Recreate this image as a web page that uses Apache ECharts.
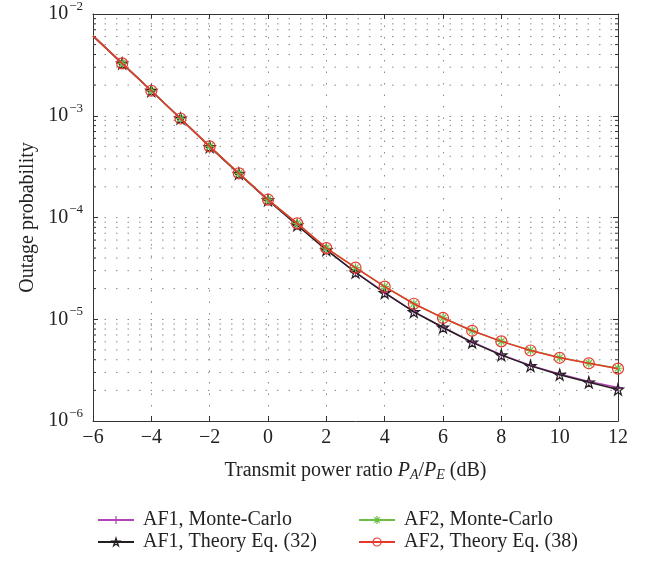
<!DOCTYPE html>
<html>
<head>
<meta charset="utf-8">
<script src="https://cdn.jsdelivr.net/npm/echarts@6/dist/echarts.min.js"></script>
<style>
  html, body { margin: 0; padding: 0; background: #fff; }
  #chart { width: 654px; height: 562px; }
</style>
</head>
<body>
<div id="chart"></div>
<script>
// transmit power ratio (dB)
var powerRatio = [-6, -5, -4, -3, -2, -1, 0, 1, 2, 3, 4, 5, 6, 7, 8, 9, 10, 11, 12]

// outage probability
var af1MonteCarlo = [6.1e-3, 3.27e-3, 1.76e-3, 9.4e-4, 4.96e-4, 2.71e-4, 1.49e-4, 8.45e-5, 4.82e-5, 2.9e-5, 1.83e-5, 1.19e-5, 8.35e-6, 5.97e-6, 4.48e-6, 3.52e-6, 2.9e-6, 2.45e-6, 2.13e-6]
var af1Theory = [6.1e-3, 3.27e-3, 1.76e-3, 9.4e-4, 4.95e-4, 2.7e-4, 1.48e-4, 8.4e-5, 4.8e-5, 2.88e-5, 1.82e-5, 1.18e-5, 8.3e-6, 5.93e-6, 4.44e-6, 3.48e-6, 2.85e-6, 2.4e-6, 2.04e-6]
var af2MonteCarlo = [6.1e-3, 3.27e-3, 1.76e-3, 9.4e-4, 5.0e-4, 2.72e-4, 1.5e-4, 8.75e-5, 5.0e-5, 3.21e-5, 2.09e-5, 1.42e-5, 1.03e-5, 7.7e-6, 6.06e-6, 4.95e-6, 4.2e-6, 3.7e-6, 3.3e-6]
var af2Theory = [6.1e-3, 3.27e-3, 1.76e-3, 9.4e-4, 5.0e-4, 2.72e-4, 1.5e-4, 8.75e-5, 5.0e-5, 3.21e-5, 2.09e-5, 1.42e-5, 1.03e-5, 7.7e-6, 6.06e-6, 4.93e-6, 4.18e-6, 3.69e-6, 3.27e-6]

var yDecades = [-6, -5, -4, -3, -2]

var seriesNames = ['AF1, Monte-Carlo', 'AF1, Theory Eq. (32)', 'AF2, Monte-Carlo', 'AF2, Theory Eq. (38)']
var seriesColors = ['#b444b4', '#231f20', '#6cbd45', '#e8372b']

var FONT = '"Liberation Serif", "DejaVu Serif", serif'
var TEXT_COLOR = '#222'
var GRID_COLOR = '#8a8a8a'
var AXIS_COLOR = '#333'
var DOTS = [1.5, 10]

// log minor grid values 2..9 x 10^k
var minorVals = []
for (var e = yDecades[0]; e < yDecades[yDecades.length - 1]; e++) {
  for (var m = 2; m <= 9; m++) minorVals.push(m * Math.pow(10, e))
}

var plusPath = 'path://M5,0L5,10M0,5L10,5'
var asteriskPath = 'path://M5,0L5,10M0,5L10,5M1.5,1.5L8.5,8.5M1.5,8.5L8.5,1.5'
var starPath = 'path://M10,0L12.245,6.91L19.51,6.91L13.63,11.18L15.88,18.09L10,13.82L4.12,18.09L6.37,11.18L0.49,6.91L7.755,6.91Z'

function pairs(vals) {
  return powerRatio.map(function (x, i) {
    var item = { value: [x, vals[i]] }
    if (i === 0) item.symbol = 'none' // curve starts at -6 dB without marker
    return item
  })
}

function makeSeries(idx, vals, symbol, size, z) {
  var color = seriesColors[idx]
  return {
    name: seriesNames[idx],
    type: 'line',
    data: pairs(vals),
    symbol: symbol,
    symbolSize: size,
    showAllSymbol: true,
    z: z,
    color: color,
    lineStyle: { color: color, width: 1.5 },
    itemStyle: { color: 'rgba(0,0,0,0)', borderColor: color, borderWidth: 1.2 },
    emphasis: { disabled: true },
    animation: false
  }
}

// dotted minor grid and minor ticks on both y spines
function renderMinor(params, api) {
  var cs = params.coordSys
  var y = api.coord([0, api.value(0)])[1]
  var x0 = cs.x, x1 = cs.x + cs.width
  return {
    type: 'group',
    children: [
      { type: 'line', shape: { x1: x0, y1: y, x2: x1, y2: y }, style: { stroke: GRID_COLOR, lineWidth: 1, lineDash: DOTS } },
      { type: 'line', shape: { x1: x0, y1: y, x2: x0 + 3, y2: y }, style: { stroke: AXIS_COLOR, lineWidth: 1 } },
      { type: 'line', shape: { x1: x1 - 3, y1: y, x2: x1, y2: y }, style: { stroke: AXIS_COLOR, lineWidth: 1 } }
    ]
  }
}

var series = [
  {
    type: 'custom',
    renderItem: renderMinor,
    data: minorVals.map(function (v) { return [v] }),
    encode: { y: 0 },
    silent: true,
    z: 1,
    animation: false
  },
  makeSeries(0, af1MonteCarlo, plusPath, 10, 2),
  makeSeries(1, af1Theory, starPath, 11, 3),
  makeSeries(2, af2MonteCarlo, asteriskPath, 9, 4),
  makeSeries(3, af2Theory, 'circle', 11, 5)
]

function legendItem(idx) {
  return {
    name: seriesNames[idx],
    itemStyle: { color: 'rgba(0,0,0,0)', borderColor: seriesColors[idx], borderWidth: 1.2 }
  }
}

function logLabel(v) {
  var p = Math.round(Math.log10(v))
  return '{b|10}{s|\u2212' + Math.abs(p) + '}'
}

var labelRich = {
  b: { fontFamily: FONT, fontSize: 20, color: TEXT_COLOR },
  s: { fontFamily: FONT, fontSize: 13, color: TEXT_COLOR, padding: [0, 0, 15, 1] }
}

var legendText = { fontFamily: FONT, fontSize: 20, color: TEXT_COLOR, padding: [0, 0, 0, 4] }

var option = {
  backgroundColor: '#fff',
  animation: false,
  textStyle: { fontFamily: FONT },
  grid: { left: 93, right: 36, top: 7, bottom: 141, containLabel: false },
  legend: [
    {
      orient: 'vertical',
      left: 92,
      top: 505,
      itemWidth: 36,
      itemHeight: 10,
      itemGap: 2,
      data: [legendItem(0), legendItem(1)],
      textStyle: legendText
    },
    {
      orient: 'vertical',
      left: 353,
      top: 505,
      itemWidth: 36,
      itemHeight: 10,
      itemGap: 2,
      data: [legendItem(2), legendItem(3)],
      textStyle: legendText
    }
  ],
  xAxis: [
    {
      type: 'value',
      min: -6,
      max: 12,
      interval: 2,
      name: '{t|Transmit power ratio }{i|P}{sub|A}{t|/}{i|P}{sub|E}{t| (dB)}',
      nameLocation: 'middle',
      nameGap: 38,
      nameTextStyle: {
        rich: {
          t: { fontFamily: FONT, fontSize: 20, color: TEXT_COLOR },
          i: { fontFamily: FONT, fontSize: 20, fontStyle: 'italic', color: TEXT_COLOR },
          sub: { fontFamily: FONT, fontSize: 14, fontStyle: 'italic', color: TEXT_COLOR, padding: [9, 0, 0, 0] }
        }
      },
      axisLine: { show: true, onZero: false, lineStyle: { color: AXIS_COLOR, width: 1 } },
      axisTick: { show: true, inside: true, length: 5, lineStyle: { color: AXIS_COLOR } },
      axisLabel: {
        margin: 7,
        fontFamily: FONT,
        fontSize: 20,
        color: TEXT_COLOR,
        formatter: function (v) { return v < 0 ? '\u2212' + Math.abs(v) : String(v) }
      },
      splitLine: { show: true, lineStyle: { color: GRID_COLOR, type: DOTS, width: 1 } }
    },
    {
      type: 'value',
      position: 'top',
      min: -6,
      max: 12,
      interval: 2,
      axisLine: { show: true, onZero: false, lineStyle: { color: AXIS_COLOR, width: 1 } },
      axisTick: { show: true, inside: true, length: 5, lineStyle: { color: AXIS_COLOR } },
      axisLabel: { show: false },
      splitLine: { show: false }
    }
  ],
  yAxis: [
    {
      type: 'log',
      logBase: 10,
      min: 1e-6,
      max: 1e-2,
      name: 'Outage probability',
      nameLocation: 'middle',
      nameGap: 55,
      nameTextStyle: { fontFamily: FONT, fontSize: 20, color: TEXT_COLOR },
      axisLine: { show: true, onZero: false, lineStyle: { color: AXIS_COLOR, width: 1 } },
      axisTick: { show: true, inside: true, length: 5, lineStyle: { color: AXIS_COLOR } },
      axisLabel: { margin: 10, formatter: logLabel, rich: labelRich },
      splitLine: { show: true, lineStyle: { color: GRID_COLOR, type: DOTS, width: 1 } }
    },
    {
      type: 'log',
      logBase: 10,
      min: 1e-6,
      max: 1e-2,
      position: 'right',
      axisLine: { show: true, onZero: false, lineStyle: { color: AXIS_COLOR, width: 1 } },
      axisTick: { show: true, inside: true, length: 5, lineStyle: { color: AXIS_COLOR } },
      axisLabel: { show: false },
      splitLine: { show: false }
    }
  ],
  series: series
}

var chart = echarts.init(document.getElementById('chart'), null, { renderer: 'canvas' })
chart.setOption(option)
</script>
</body>
</html>
